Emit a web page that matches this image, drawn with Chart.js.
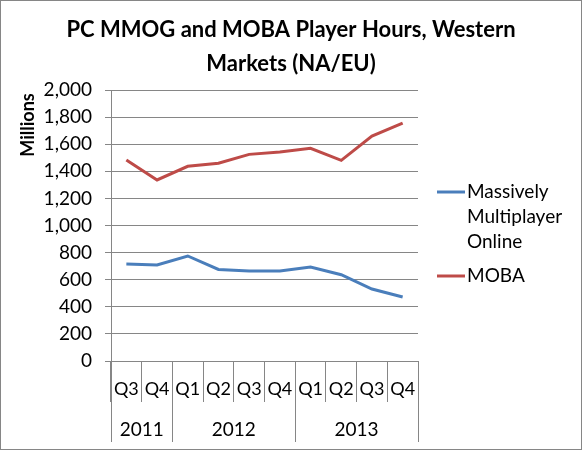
<!DOCTYPE html>
<html><head><meta charset="utf-8">
<script src="https://cdn.jsdelivr.net/npm/chart.js@4.4.1/dist/chart.umd.min.js"></script>
<style>html,body{margin:0;padding:0;background:#fff;}#wrap{width:582px;height:450px;}</style>
</head><body><div id="wrap"><canvas id="c" width="582" height="450"></canvas></div>
<script>
const quarters = ["Q3","Q4","Q1","Q2","Q3","Q4","Q1","Q2","Q3","Q4"];
const years = ["2011","2012","2013"];
const yearSpans = [2,4,4];
const mmoValues = [716,709,775,676,664,664,694,637,531,472];
const mobaValues = [1483,1336,1437,1459,1525,1542,1570,1481,1660,1756];
const seriesNames = ["Massively Multiplayer Online","MOBA"];
const legendLines = [["Massively","Multiplayer","Online"],["MOBA"]];
const titleLines = ["PC MMOG and MOBA Player Hours, Western","Markets (NA/EU)"];
const yTitle = "Millions";
const yMin = 0, yMax = 2000, yStep = 200;

const GRID = '#868686';
const BLUE = '#4A7EBB';
const RED = '#BE4B48';
const FONT = 'Lato';

Chart.defaults.font.family = FONT;
Chart.defaults.color = '#000';

const decor = {
  id: 'decor',
  afterDraw(chart) {
    const ctx = chart.ctx;
    const xs = chart.scales.x;
    const step = xs.getPixelForValue(1) - xs.getPixelForValue(0);
    ctx.save();
    ctx.strokeStyle = GRID; ctx.lineWidth = 1;
    let idx = 0;
    const bounds = [idx];
    yearSpans.forEach(s => { idx += s; bounds.push(idx); });
    bounds.forEach(b => {
      const x = Math.round(xs.getPixelForValue(b) - step / 2) + 0.5;
      ctx.beginPath(); ctx.moveTo(x, xs.top); ctx.lineTo(x, xs.top + 81); ctx.stroke();
    });
    ctx.fillStyle = '#000';
    ctx.font = '19px ' + FONT;
    ctx.textAlign = 'center'; ctx.textBaseline = 'middle';
    years.forEach((y, i) => {
      const a = xs.getPixelForValue(bounds[i]) - step / 2;
      const b = xs.getPixelForValue(bounds[i + 1]) - step / 2;
      ctx.fillText(y, (a + b) / 2, xs.top + 69);
    });
    ctx.font = 'bold 22px ' + FONT;
    ctx.textBaseline = 'alphabetic';
    ctx.fillText(titleLines[0], 291, 37);
    ctx.fillText(titleLines[1], 291, 70.5);
    ctx.save();
    ctx.translate(28, 125);
    ctx.rotate(-Math.PI / 2);
    ctx.font = 'bold 18px ' + FONT;
    ctx.textBaseline = 'middle';
    ctx.fillText(yTitle, 0, 0);
    ctx.restore();
    const colors = [BLUE, RED];
    const ys = [192, 276];
    ctx.font = '19px ' + FONT;
    ctx.textAlign = 'left'; ctx.textBaseline = 'middle';
    legendLines.forEach((lines, i) => {
      ctx.strokeStyle = colors[i]; ctx.lineWidth = 3;
      ctx.beginPath(); ctx.moveTo(437, ys[i]); ctx.lineTo(465, ys[i]); ctx.stroke();
      lines.forEach((t, j) => ctx.fillText(t, 467, ys[i] + j * 25));
    });
    ctx.strokeStyle = GRID; ctx.lineWidth = 1;
    ctx.strokeRect(0.5, 0.5, 581, 449);
    ctx.restore();
  }
};

new Chart(document.getElementById('c'), {
  type: 'line',
  data: {
    labels: quarters,
    datasets: [
      { label: seriesNames[0], data: mmoValues, borderColor: BLUE, backgroundColor: BLUE, borderWidth: 3, pointRadius: 0, tension: 0 },
      { label: seriesNames[1], data: mobaValues, borderColor: RED, backgroundColor: RED, borderWidth: 3, pointRadius: 0, tension: 0 }
    ]
  },
  options: {
    responsive: false,
    animation: false,
    layout: { padding: { left: 0, top: 90, right: 164, bottom: 0 } },
    plugins: { legend: { display: false }, title: { display: false }, tooltip: { enabled: false } },
    scales: {
      x: {
        type: 'category',
        offset: true,
        grid: { offset: true, drawOnChartArea: false, drawTicks: true, tickLength: 41, color: GRID, tickColor: GRID },
        border: { color: GRID },
        ticks: { font: { size: 18 }, color: '#000', padding: -24, maxRotation: 0, autoSkip: false },
        afterFit(s) { s.height = 89; }
      },
      y: {
        min: yMin, max: yMax,
        grid: { color: GRID, tickColor: GRID, tickLength: 6 },
        border: { color: GRID },
        ticks: { stepSize: yStep, font: { size: 19 }, color: '#000', padding: 13, callback: v => v.toLocaleString('en-US') },
        afterFit(s) { s.width = 111; }
      }
    }
  },
  plugins: [decor]
});
</script></body></html>
